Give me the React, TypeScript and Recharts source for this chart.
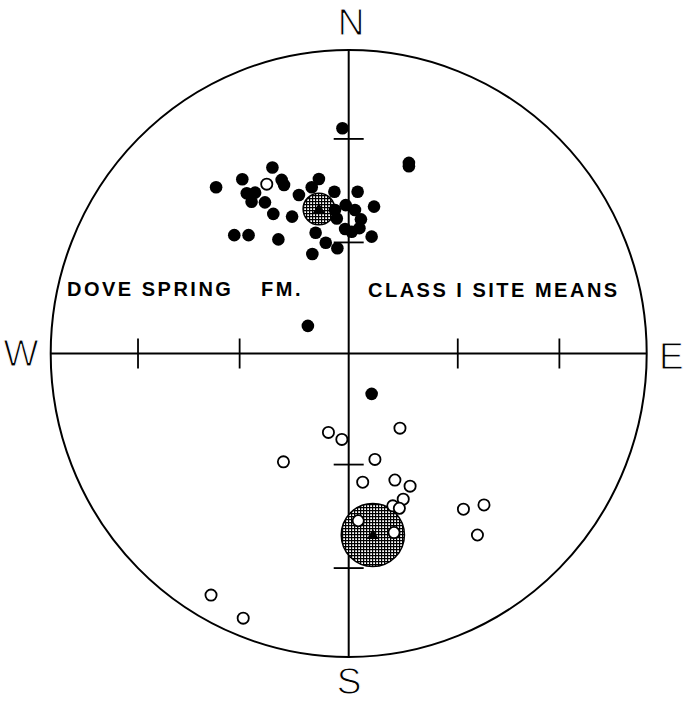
import { ScatterChart, Scatter, XAxis, YAxis, ReferenceLine, ReferenceDot } from 'recharts';

// projected site means (equal-area, unit circle)
const NORMAL_X = [-0.021, 0.202, 0.202, -0.256, -0.357, -0.225, -0.217, -0.445, -0.342, -0.314, -0.326, -0.281, -0.167, -0.253, -0.19, -0.384, -0.336, -0.236, -0.1, -0.124, -0.048, 0.03, 0.085, -0.01, 0.021, 0.041, 0.036, -0.012, 0.01, -0.046, -0.04, 0.077, -0.111, -0.077, -0.038, -0.122, -0.137, 0.077];
const NORMAL_Y = [0.742, 0.628, 0.617, 0.613, 0.574, 0.572, 0.555, 0.548, 0.528, 0.53, 0.5, 0.498, 0.522, 0.46, 0.451, 0.39, 0.39, 0.376, 0.575, 0.548, 0.533, 0.533, 0.484, 0.489, 0.473, 0.442, 0.413, 0.41, 0.401, 0.473, 0.445, 0.385, 0.398, 0.365, 0.347, 0.328, 0.091, -0.133];

const REVERSED_X = [-0.275, -0.068, -0.023, 0.172, -0.219, 0.088, 0.047, 0.155, 0.206, 0.183, 0.148, 0.17, 0.385, 0.454, 0.432, 0.032, 0.152, -0.462, -0.354];
const REVERSED_Y = [0.558, -0.26, -0.283, -0.246, -0.357, -0.349, -0.424, -0.417, -0.437, -0.48, -0.502, -0.51, -0.513, -0.499, -0.598, -0.551, -0.59, -0.796, -0.872];

const MEAN_X = [-0.1, 0.081];
const MEAN_Y = [0.476, -0.598];
const MEAN_A95 = [0.053, 0.106];

// 30 and 60 degree inclination marks on the axes
const TICKS = [-0.707, -0.366, 0.366, 0.707];

const W = 684;
const H = 702;
const M = { top: 50, right: 37.3, bottom: 45, left: 50.7 };
const PLOT_W = W - M.left - M.right;
const PLOT_H = H - M.top - M.bottom;
const TICK_X = 15 / (PLOT_W / 2);
const TICK_Y = 15 / (PLOT_H / 2);

const normal = NORMAL_X.map((x, i) => ({ x, y: NORMAL_Y[i] }));
const reversed = REVERSED_X.map((x, i) => ({ x, y: REVERSED_Y[i] }));
const means = MEAN_X.map((x, i) => ({ x, y: MEAN_Y[i], a95: MEAN_A95[i] }));

const Dot = (p: any) => <circle cx={p.cx} cy={p.cy} r={6.3} fill="#000" />;
const Ring = (p: any) => <circle cx={p.cx} cy={p.cy} r={5.6} fill="#fff" stroke="#000" strokeWidth={1.8} />;

const MeanShape = (p: any) => {
  const r = p.payload.a95 * (PLOT_W / 2);
  const { cx, cy } = p;
  return (
    <g>
      <defs>
        <pattern id="hatch" width="3" height="3" patternUnits="userSpaceOnUse">
          <rect width="3" height="3" fill="#fff" />
          <path d="M0,0.6 H3 M0.6,0 V3" stroke="#000" strokeWidth={1.2} />
        </pattern>
      </defs>
      <circle cx={cx} cy={cy} r={r} fill="url(#hatch)" stroke="#000" strokeWidth={1.5} />
      <path d={`M${cx},${cy - 6} L${cx + 6},${cy + 4} L${cx - 6},${cy + 4} Z`} fill="#000" />
    </g>
  );
};

const Frame = (p: any) => (
  <ellipse cx={p.cx} cy={p.cy} rx={PLOT_W / 2} ry={PLOT_H / 2} fill="none" stroke="#000" strokeWidth={2} />
);

const dirFont = {
  fontFamily: '"Liberation Sans Narrow", "Liberation Sans", sans-serif',
  fontSize: 37,
  fill: '#000',
  stroke: '#fff',
  strokeWidth: 1.1,
};
const labFont = { fontFamily: '"Liberation Sans", Arial, sans-serif', fontSize: 20, fontWeight: 700, letterSpacing: 2.5, fill: '#000' };

export default function App() {
  return (
    <div style={{ position: 'absolute', left: 0, top: 0, width: W, height: H, background: '#fff' }}>
      <ScatterChart width={W} height={H} margin={M}>
        <XAxis type="number" dataKey="x" domain={[-1, 1]} hide allowDataOverflow />
        <YAxis type="number" dataKey="y" domain={[-1, 1]} hide allowDataOverflow />
        <ReferenceDot x={0} y={0} shape={Frame} ifOverflow="visible" />
        <ReferenceLine x={0} stroke="#000" strokeWidth={2} />
        <ReferenceLine y={0} stroke="#000" strokeWidth={2} />
        {TICKS.map((t) => (
          <ReferenceLine key={'x' + t} segment={[{ x: t, y: -TICK_Y }, { x: t, y: TICK_Y }]} stroke="#000" strokeWidth={1.8} />
        ))}
        {TICKS.map((t) => (
          <ReferenceLine key={'y' + t} segment={[{ x: -TICK_X, y: t }, { x: TICK_X, y: t }]} stroke="#000" strokeWidth={1.8} />
        ))}
        <Scatter data={means} shape={MeanShape} isAnimationActive={false} />
        <Scatter data={normal} shape={Dot} isAnimationActive={false} />
        <Scatter data={reversed} shape={Ring} isAnimationActive={false} />
        <text x={351} y={35} textAnchor="middle" style={dirFont}>N</text>
        <text x={349} y={694} textAnchor="middle" style={dirFont}>S</text>
        <text x={21} y={366} textAnchor="middle" style={dirFont}>W</text>
        <text x={659} y={369} textAnchor="start" style={dirFont}>E</text>
        <text x={67} y={296} style={labFont}>DOVE SPRING</text>
        <text x={261} y={296} style={labFont}>FM.</text>
        <text x={368} y={297} style={labFont}>CLASS I SITE MEANS</text>
      </ScatterChart>
    </div>
  );
}
